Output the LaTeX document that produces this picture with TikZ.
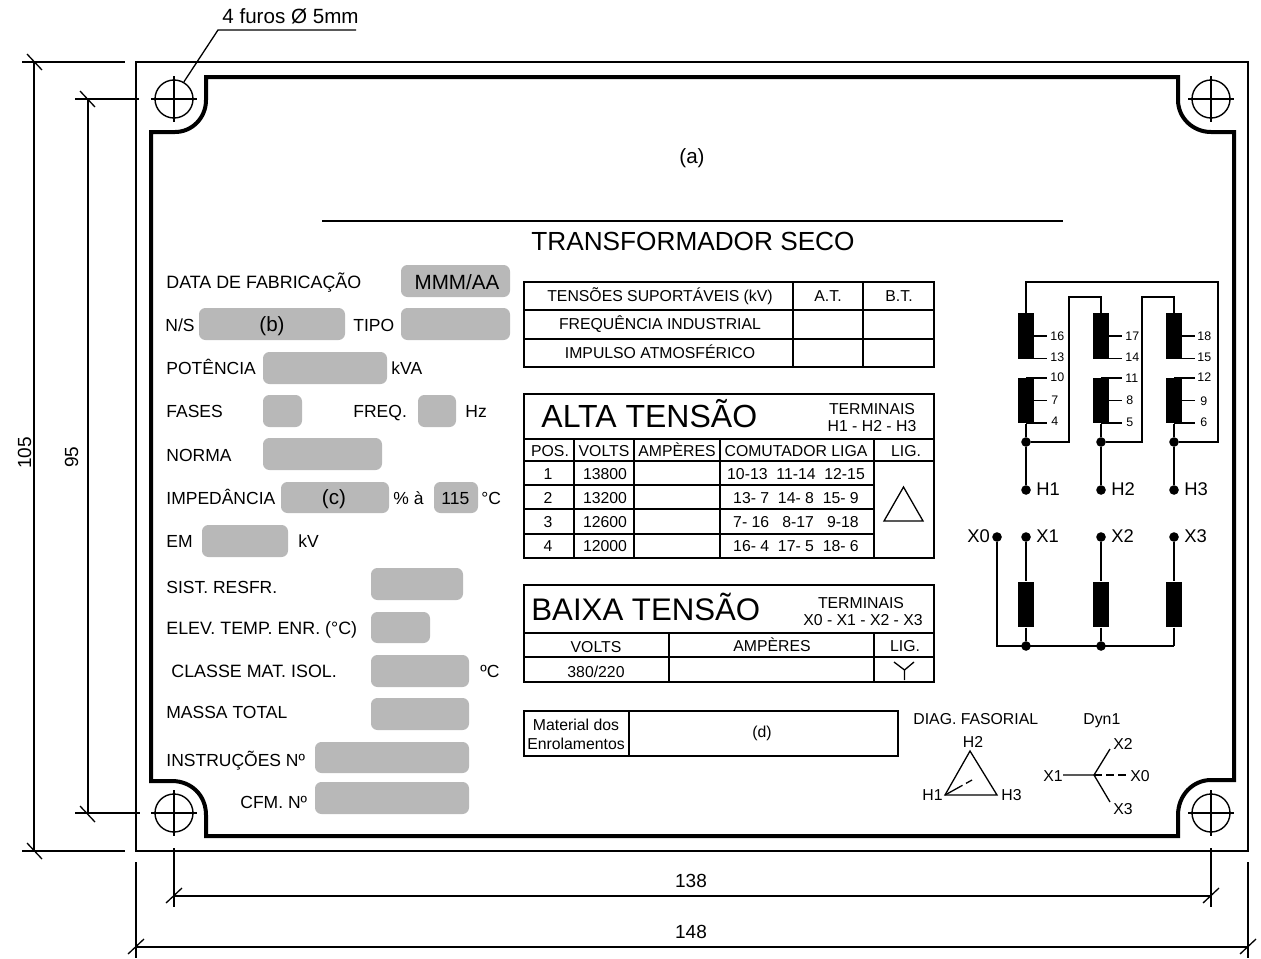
\documentclass[tikz,border=0pt]{standalone}
\usepackage{fontspec}
\setmainfont{Liberation Sans}
\usepackage{color}
\definecolor{plategrey}{HTML}{B8B8B8}

\begin{document}
\begin{tikzpicture}[x=0.5pt,y=-0.5pt]
  \useasboundingbox (0,0) rectangle (1261,958);

  \tikzset{thin line/.style={black, line width=0.65pt}}
  \tikzset{table line/.style={black, line width=0.8pt}}
  \tikzset{wire/.style={black, line width=0.85pt}}
  \tikzset{field/.style={fill=plategrey, rounded corners=3.2pt}}
  \tikzset{wide label/.style={font=\fontsize{8.93}{10}\selectfont}}

  % plate
  \draw[thin line] (136,62) rectangle (1248,851);
  \draw[black, line width=2pt, line join=miter] (206,77) -- (1178,77) -- (1178,100)
    .. controls (1178,118) and (1193,132) .. (1211,132) -- (1234,132) -- (1234,780) -- (1211,780)
    .. controls (1193,780) and (1178,795) .. (1178,815) -- (1178,836) -- (206,836) -- (206,815)
    .. controls (206,795) and (191,781) .. (172,781) -- (151,781) -- (151,132) -- (175,132)
    .. controls (192,132) and (206,118) .. (206,100) -- cycle;

  \begin{scope}[every node/.style={circle,draw,line width=0.7pt,minimum size=19pt,inner sep=0pt}]
      \node (hole1) at (174,99) {};
      \node (hole2) at (1211,99) {};
      \node (hole3) at (174,813) {};
      \node (hole4) at (1211,813) {};
  \end{scope}
  \draw[thin line] (151,99) -- (197,99) (174,76) -- (174,122);
  \draw[thin line] (1188,99) -- (1234,99) (1211,76) -- (1211,122);
  \draw[thin line] (151,813) -- (197,813) (174,790) -- (174,836);
  \draw[thin line] (1188,813) -- (1234,813) (1211,790) -- (1211,836);

  \coordinate (bend) at (218,30);
  \coordinate (leaderend) at (356,30);
  \draw[thin line] (hole1.60) -- (bend) -- (leaderend);

  % dimensions
  \draw[thin line] (22,62) -- (125,62) (22,851) -- (125,851) (34,62) -- (34,851);
  \draw[thin line] (27,54) -- (42,70) (27,843) -- (42,859);
  \draw[thin line] (75,99) -- (139,99) (75,813) -- (140,813) (88,99) -- (88,813);
  \draw[thin line] (80,91) -- (95,107) (80,806) -- (95,822);
  \draw[thin line] (174,848) -- (174,907) (1211,848) -- (1211,907) (174,896) -- (1211,896);
  \draw[thin line] (166,903) -- (182,888) (1203,903) -- (1219,888);
  \draw[thin line] (136,862) -- (136,958) (1248,862) -- (1248,958) (136,947) -- (1248,947);
  \draw[thin line] (128,954) -- (144,939) (1240,954) -- (1256,939);

  \begin{scope}[every node/.style={inner sep=0pt,font=\fontsize{9.5}{11}\selectfont,anchor=base}]
      \node (dim138) at (691,887) {138};
      \node (dim148) at (691,938) {148};
      \node[rotate=90] (dim105) at (31,453) {105};
      \node[rotate=90] (dim95) at (78,457) {95};
  \end{scope}
  \node[inner sep=0pt,anchor=base west,font=\fontsize{10.3}{12}\selectfont] (furos) at (222,23) {4 furos Ø 5mm};

  % title
  \draw[thin line] (322,221) -- (1063,221);
  \node[inner sep=0pt,anchor=base west,font=\fontsize{13.1}{15}\selectfont] (title) at (531,250) {TRANSFORMADOR SECO};

  % fields
  \fill[field] (401,265) rectangle (510,297);
  \fill[field] (199,308) rectangle (345,340);
  \fill[field] (401,308) rectangle (510,340);
  \fill[field] (263,352) rectangle (387,384);
  \fill[field] (263,395) rectangle (302,427);
  \fill[field] (418,395) rectangle (456,427);
  \fill[field] (263,438) rectangle (382,470);
  \fill[field] (281,482) rectangle (389,513);
  \fill[field] (434,482) rectangle (478,513);
  \fill[field] (202,525) rectangle (288,557);
  \fill[field] (371,568) rectangle (463,600);
  \fill[field] (371,612) rectangle (430,643);
  \fill[field] (371,655) rectangle (469,687);
  \fill[field] (371,698) rectangle (469,730);
  \fill[field] (315,742) rectangle (469,773);
  \fill[field] (315,782) rectangle (469,814);

  \begin{scope}[every node/.style={inner sep=0pt,font=\fontsize{8.75}{10}\selectfont,anchor=base west}]
      \node[wide label] (data) at (166,288) {DATA DE FABRICAÇÃO};
      \node (ns) at (165,331) {N/S};
      \node (tipo) at (353,331) {TIPO};
      \node (potencia) at (166,374) {POTÊNCIA};
      \node (kva) at (391,374) {kVA};
      \node (fases) at (166,417) {FASES};
      \node (freq) at (353,417) {FREQ.};
      \node (hz) at (465,417) {Hz};
      \node (norma) at (166,461) {NORMA};
      \node (imped) at (166,504) {IMPEDÂNCIA};
      \node (pct) at (393,504) {\% à};
      \node (val115) at (441,504) {115};
      \node (grC) at (481,504) {°C};
      \node (em) at (166,547) {EM};
      \node (kv) at (298,547) {kV};
      \node (sist) at (166,593) {SIST. RESFR.};
      \node[wide label] (elev) at (166,634) {ELEV. TEMP. ENR. (°C)};
      \node[wide label] (classe) at (171,677) {CLASSE MAT. ISOL.};
      \node (ordC) at (480,677) {ºC};
      \node (massa) at (166,718) {MASSA TOTAL};
      \node (instr) at (166,766) {INSTRUÇÕES Nº};
      \node (cfm) at (240,808) {CFM. Nº};
  \end{scope}

  \begin{scope}[every node/.style={inner sep=0pt,font=\fontsize{10.3}{12}\selectfont,anchor=base}]
      \node (a) at (692,163) {(a)};
      \node (mmm) at (457,289) {MMM/AA};
      \node (b) at (272,331) {(b)};
      \node (c) at (334,504) {(c)};
  \end{scope}

  % tables
  \draw[table line] (524,282) rectangle (934,367);
  \draw[table line] (524,310) -- (934,310) (524,339) -- (934,339);
  \draw[table line] (793,282) -- (793,367) (863,282) -- (863,367);

  \draw[table line] (524,394) rectangle (934,558);
  \draw[table line] (524,439) -- (934,439) (524,461) -- (934,461);
  \draw[table line] (524,485) -- (874,485) (524,509) -- (874,509) (524,534) -- (874,534);
  \draw[table line] (574,439) -- (574,558) (634,439) -- (634,558) (720,439) -- (720,558) (874,439) -- (874,558);
  \draw[thin line] (884,521) -- (923,521) -- (903.5,487) -- cycle;

  \draw[table line] (524,585) rectangle (934,682);
  \draw[table line] (524,633) -- (934,633) (524,657) -- (934,657);
  \draw[table line] (669,633) -- (669,682) (874,633) -- (874,682);
  \draw[thin line] (894,662) -- (904.5,670) -- (914,662) (904.5,670) -- (904.5,680);

  \draw[thin line] (524,711) rectangle (898,756);
  \draw[thin line] (629,711) -- (629,756);

  \begin{scope}[every node/.style={inner sep=0pt,font=\fontsize{7.9}{9}\selectfont,anchor=base}]
      \node (suport) at (660,301) {TENSÕES SUPORTÁVEIS (kV)};
      \node (at) at (828,301) {A.T.};
      \node (bt) at (899,301) {B.T.};
      \node (frind) at (660,329) {FREQUÊNCIA INDUSTRIAL};
      \node (impulso) at (660,358) {IMPULSO ATMOSFÉRICO};

      \node (termH) at (872,414) {TERMINAIS};
      \node (termHs) at (872,431) {H1 - H2 - H3};
      \node (pos) at (550,456) {POS.};
      \node (voltsH) at (604,456) {VOLTS};
      \node (ampH) at (677,456) {AMPÈRES};
      \node (comut) at (796,456) {COMUTADOR LIGA};
      \node (ligH) at (906,456) {LIG.};

      \node (pos1) at (548,479) {1};
      \node (pos2) at (548,503) {2};
      \node (pos3) at (548,527) {3};
      \node (pos4) at (548,551) {4};
      \node (v1) at (605,479) {13800};
      \node (v2) at (605,503) {13200};
      \node (v3) at (605,527) {12600};
      \node (v4) at (605,551) {12000};
      \node (com1) at (796,479) {10-13~~11-14~~12-15};
      \node (com2) at (796,503) {13- 7~~14- 8~~15- 9};
      \node (com3) at (796,527) {7- 16~~~8-17~~~9-18};
      \node (com4) at (796,551) {16- 4~~17- 5~~18- 6};

      \node (termX) at (861,608) {TERMINAIS};
      \node (termXs) at (863,625) {X0 - X1 - X2 - X3};
      \node (voltsX) at (596,652) {VOLTS};
      \node (ampX) at (772,651) {AMPÈRES};
      \node (ligX) at (905,651) {LIG.};
      \node (v380) at (596,677) {380/220};

      \node (mat1) at (576,730) {Material dos};
      \node (mat2) at (576,749) {Enrolamentos};
      \node (d) at (762,737) {(d)};

      \node[anchor=base west] (diag) at (913,724) {DIAG. FASORIAL};
      \node[anchor=base west] (dyn) at (1083,724) {Dyn1};
      \node (h2f) at (973,747) {H2};
      \node[anchor=base west] (h1f) at (922,800) {H1};
      \node[anchor=base west] (h3f) at (1001,800) {H3};
      \node[anchor=base west] (x2f) at (1113,749) {X2};
      \node[anchor=base west] (x3f) at (1113,814) {X3};
      \node[anchor=base west] (x1f) at (1043,781) {X1};
      \node[anchor=base west] (x0f) at (1130,781) {X0};
  \end{scope}

  \node[inner sep=0pt,anchor=base west,font=\fontsize{16}{18}\selectfont] (alta) at (541,427) {ALTA TENSÃO};
  \node[inner sep=0pt,anchor=base west,font=\fontsize{15.6}{18}\selectfont] (baixa) at (531,620) {BAIXA TENSÃO};

  % phasors
  \coordinate (apex) at (970,751);
  \coordinate (tl) at (945,795);
  \coordinate (tr) at (997,795);
  \coordinate (tm) at (972,780);
  \coordinate (star) at (1094,775);
  \coordinate (s1) at (1063,775);
  \coordinate (s0) at (1127,775);
  \coordinate (s2) at (1110,749);
  \coordinate (s3) at (1110,802);
  \draw[thin line] (tl) -- (tr) -- (apex) -- cycle;
  \draw[thin line,dash pattern=on 10pt off 2pt] (tl) -- (tm);
  \draw[thin line] (s1) -- (star) -- (s2) (star) -- (s3);
  \draw[thin line,dash pattern=on 4pt off 2pt] (star) -- (s0);

  % windings
  \begin{scope}[every node/.style={rectangle,fill=black,minimum width=8pt,minimum height=22.7pt,inner sep=0pt}]
      \node (c1) at (1026,336) {};
      \node (c2) at (1101,336) {};
      \node (c3) at (1174,336) {};
      \node (c4) at (1026,400.5) {};
      \node (c5) at (1101,400.5) {};
      \node (c6) at (1174,400.5) {};
      \node (c7) at (1026,604.5) {};
      \node (c8) at (1101,604.5) {};
      \node (c9) at (1174,604.5) {};
  \end{scope}

  \begin{scope}[every node/.style={circle,fill=black,minimum size=4.8pt,inner sep=0pt}]
      \node (n1) at (1026,442) {};
      \node (n2) at (1101,442) {};
      \node (n3) at (1174,442) {};
      \node (h1) at (1026,490) {};
      \node (h2) at (1101,490) {};
      \node (h3) at (1174,490) {};
      \node (x0) at (997,537) {};
      \node (x1) at (1026,537) {};
      \node (x2) at (1101,537) {};
      \node (x3) at (1174,537) {};
      \node (b1) at (1026,646) {};
      \node (b2) at (1101,646) {};
  \end{scope}

  \coordinate (top1) at (1026,282);
  \coordinate (top2) at (1218,282);
  \coordinate (top3) at (1218,442);
  \coordinate (mid1) at (1101,297);
  \coordinate (mid2) at (1069,297);
  \coordinate (mid3) at (1069,442);
  \coordinate (mid4) at (1174,297);
  \coordinate (mid5) at (1142,297);
  \coordinate (mid6) at (1142,442);
  \coordinate (bus0) at (997,646);
  \coordinate (bus3) at (1174,646);

  \draw[wire] (c1.north) -- (top1) -- (top2) -- (top3) -- (n3);
  \draw[wire] (c2.north) -- (mid1) -- (mid2) -- (mid3) -- (n1);
  \draw[wire] (c3.north) -- (mid4) -- (mid5) -- (mid6) -- (n2);
  \draw[wire] (c4.south) -- (n1) -- (h1);
  \draw[wire] (c5.south) -- (n2) -- (h2);
  \draw[wire] (c6.south) -- (n3) -- (h3);
  \draw[wire] (x1) -- (c7.north) (c7.south) -- (b1);
  \draw[wire] (x2) -- (c8.north) (c8.south) -- (b2);
  \draw[wire] (x3) -- (c9.north) (c9.south) -- (bus3);
  \draw[wire] (x0) -- (bus0) -- (bus3);

  \coordinate (t16) at (1047,336);
  \coordinate (t13) at (1047,358.5);
  \coordinate (t10) at (1047,378);
  \coordinate (t7) at (1047,400.5);
  \coordinate (t4) at (1047,423);
  \coordinate (t17) at (1122,336);
  \coordinate (t14) at (1122,358.5);
  \coordinate (t11) at (1122,378);
  \coordinate (t8) at (1122,400.5);
  \coordinate (t5) at (1122,423);
  \coordinate (t18) at (1195,336);
  \coordinate (t15) at (1195,358.5);
  \coordinate (t12) at (1195,378);
  \coordinate (t9) at (1195,400.5);
  \coordinate (t6) at (1195,423);

  \draw[thin line] (c1 |- t16) -- (t16);
  \draw[thin line] (c1 |- t13) -- (t13);
  \draw[thin line] (c4 |- t10) -- (t10);
  \draw[thin line] (c4 |- t7) -- (t7);
  \draw[thin line] (c4 |- t4) -- (t4);
  \draw[thin line] (c2 |- t17) -- (t17);
  \draw[thin line] (c2 |- t14) -- (t14);
  \draw[thin line] (c5 |- t11) -- (t11);
  \draw[thin line] (c5 |- t8) -- (t8);
  \draw[thin line] (c5 |- t5) -- (t5);
  \draw[thin line] (c3 |- t18) -- (t18);
  \draw[thin line] (c3 |- t15) -- (t15);
  \draw[thin line] (c6 |- t12) -- (t12);
  \draw[thin line] (c6 |- t9) -- (t9);
  \draw[thin line] (c6 |- t6) -- (t6);

  \begin{scope}[every node/.style={inner sep=0pt,font=\fontsize{6.2}{7}\selectfont,anchor=base west}]
      \node (l16) at (1050,340) {16};
      \node (l13) at (1050,361) {13};
      \node (l10) at (1050,381) {10};
      \node (l7) at (1051,404) {7};
      \node (l4) at (1051,425) {4};
      \node (l17) at (1125,340) {17};
      \node (l14) at (1125,361) {14};
      \node (l11) at (1125,382) {11};
      \node (l8) at (1126,404) {8};
      \node (l5) at (1126,426) {5};
      \node (l18) at (1197,340) {18};
      \node (l15) at (1197,361) {15};
      \node (l12) at (1197,381) {12};
      \node (l9) at (1200,405) {9};
      \node (l6) at (1200,426) {6};
  \end{scope}

  \begin{scope}[every node/.style={inner sep=0pt,font=\fontsize{9.2}{11}\selectfont,anchor=base west}]
      \node (lh1) at (1036,495) {H1};
      \node (lh2) at (1111,495) {H2};
      \node (lh3) at (1184,495) {H3};
      \node (lx0) at (967,542) {X0};
      \node (lx1) at (1036,542) {X1};
      \node (lx2) at (1111,542) {X2};
      \node (lx3) at (1184,542) {X3};
  \end{scope}

\end{tikzpicture}
\end{document}
